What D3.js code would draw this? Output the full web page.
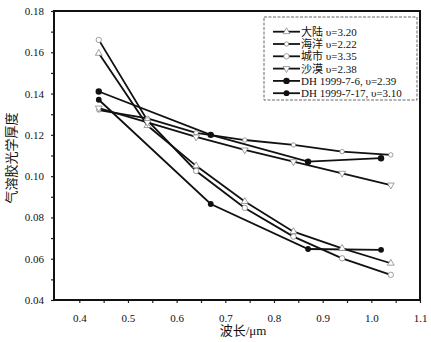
<!DOCTYPE html>
<html><head><meta charset="utf-8">
<script src="https://cdn.jsdelivr.net/npm/d3@7"></script>
<style>body{margin:0;background:#fff}svg{display:block}text{font-family:"Liberation Serif","Noto Sans CJK SC",serif;fill:#111}</style>
</head><body>
<svg id="c" width="431" height="342"></svg>
<script>
const modelX = [0.44, 0.54, 0.64, 0.74, 0.84, 0.94, 1.04];
const dhX = [0.44, 0.67, 0.87, 1.02];
const dalu = [0.1595, 0.1245, 0.105, 0.0877, 0.0731, 0.065, 0.0578];
const haiyang = [0.132, 0.128, 0.121, 0.1175, 0.1151, 0.1119, 0.1103];
const chengshi = [0.166, 0.127, 0.1025, 0.0846, 0.0707, 0.0602, 0.0522];
const shamo = [0.133, 0.126, 0.119, 0.1127, 0.107, 0.1014, 0.0957];
const dh76 = [0.141, 0.120, 0.107, 0.1087];
const dh717 = [0.137, 0.0865, 0.0647, 0.0643];
const seriesNames = ["大陆 υ=3.20", "海洋 υ=2.22", "城市 υ=3.35", "沙漠 υ=2.38", "DH 1999-7-6, υ=2.39", "DH 1999-7-17, υ=3.10"];
const yTicks = [0.04, 0.06, 0.08, 0.10, 0.12, 0.14, 0.16, 0.18];
const yMinor = [0.05, 0.07, 0.09, 0.11, 0.13, 0.15, 0.17];
const xTicks = [0.4, 0.5, 0.6, 0.7, 0.8, 0.9, 1.0, 1.1];
const xMinor = [0.45, 0.55, 0.65, 0.75, 0.85, 0.95, 1.05];
const xTitle = "波长/μm";
const yTitle = "气溶胶光学厚度";

const svg = d3.select("#c");
const L = 54, R = 420, T = 11, B = 300;
const x = d3.scaleLinear().domain([0.348, 1.1]).range([L, R]);
const y = d3.scaleLinear().domain([0.04, 0.18]).range([B, T]);

svg.append("g").attr("transform", `translate(${L},0)`)
  .call(d3.axisLeft(y).tickValues(yTicks).tickFormat(d3.format(".2f")).tickSize(3).tickPadding(7));
svg.append("g").attr("transform", `translate(${L},0)`)
  .call(d3.axisLeft(y).tickValues(yMinor).tickFormat("").tickSize(3));
svg.append("g").attr("transform", `translate(0,${B})`)
  .call(d3.axisBottom(x).tickValues(xTicks).tickFormat(d3.format(".1f")).tickSize(3).tickPadding(11));
svg.append("g").attr("transform", `translate(0,${B})`)
  .call(d3.axisBottom(x).tickValues(xMinor).tickFormat("").tickSize(3));
svg.selectAll(".domain").remove();
svg.selectAll(".tick line").attr("stroke", "#222").attr("stroke-width", 1.2);
svg.selectAll(".tick text").attr("font-size", 11).style("font-family", "'Liberation Serif', serif").attr("fill", "#111");

svg.append("rect").attr("x", L).attr("y", T).attr("width", R - L).attr("height", B - T)
  .attr("fill", "none").attr("stroke", "#111").attr("stroke-width", 2);

svg.append("text").attr("x", 243).attr("y", 335).attr("text-anchor", "middle").attr("font-size", 13).text(xTitle);
svg.append("text").attr("transform", "translate(16,158) rotate(-90)").attr("text-anchor", "middle").attr("font-size", 13).text(yTitle);

const line = d3.line().x(d => x(d[0])).y(d => y(d[1]));
const series = [
  {xs: modelX, ys: dalu, sym: "tri"},
  {xs: modelX, ys: haiyang, sym: "circS"},
  {xs: modelX, ys: chengshi, sym: "circL"},
  {xs: modelX, ys: shamo, sym: "triD"},
  {xs: dhX, ys: dh76, sym: "fill76"},
  {xs: dhX, ys: dh717, sym: "fill717"}
];
function drawSym(g, sym, cx, cy) {
  if (sym === "fill76") g.append("circle").attr("cx", cx).attr("cy", cy).attr("r", 3.2).attr("fill", "#111");
  else if (sym === "fill717") g.append("circle").attr("cx", cx).attr("cy", cy).attr("r", 2.9).attr("fill", "#111");
  else if (sym === "circS") g.append("circle").attr("cx", cx).attr("cy", cy).attr("r", 2.2).attr("fill", "#fff").attr("stroke", "#777").attr("stroke-width", 0.7);
  else if (sym === "circL") g.append("circle").attr("cx", cx).attr("cy", cy).attr("r", 2.7).attr("fill", "#fff").attr("stroke", "#777").attr("stroke-width", 0.7);
  else {
    const p = d3.symbol().type(d3.symbolTriangle).size(20)();
    g.append("path").attr("d", p).attr("transform", `translate(${cx},${cy})` + (sym === "triD" ? " rotate(180)" : ""))
      .attr("fill", "#fff").attr("stroke", "#777").attr("stroke-width", 0.7);
  }
}
series.forEach(s => {
  const pts = s.xs.map((v, i) => [v, s.ys[i]]);
  svg.append("path").attr("d", line(pts)).attr("fill", "none").attr("stroke", "#111").attr("stroke-width", 1.8);
});
series.forEach(s => {
  const g = svg.append("g");
  s.xs.forEach((v, i) => drawSym(g, s.sym, x(v), y(s.ys[i])));
});

svg.append("rect").attr("x", 264).attr("y", 17).attr("width", 153).attr("height", 83)
  .attr("fill", "#fff").attr("stroke", "#666").attr("stroke-width", 1).attr("stroke-dasharray", "3,1.5");
seriesNames.forEach((n, i) => {
  const yy = 31.7 + i * 12.3;
  const g = svg.append("g");
  g.append("line").attr("x1", 273).attr("x2", 300).attr("y1", yy).attr("y2", yy).attr("stroke", "#111").attr("stroke-width", 1.8);
  drawSym(g, series[i].sym, 286.5, yy);
  g.append("text").attr("x", 301).attr("y", yy + 4).attr("font-size", 11).text(n);
});
</script>
</body></html>
